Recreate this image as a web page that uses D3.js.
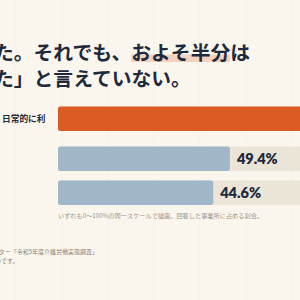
<!DOCTYPE html>
<html><head><meta charset="utf-8">
<script src="https://cdn.jsdelivr.net/npm/d3@7"></script>
<style>
html,body{margin:0;padding:0;background:#faf6ed;}
svg{display:block;}
</style></head>
<body>
<svg id="c" width="300" height="300"></svg>
<script>
// ---- data ----
const titleLine1Pre = "た。それでも、";
const titleLine1Hi = "およそ半分";
const titleLine1Post = "は";
const titleLine2 = "た」と言えていない。";
const categories = ["日常的に利用している", "一部で利用している", "利用していない"];
const values = [76.0, 49.4, 44.6];
const highlight = [true, false, false];
const note = "いずれも0〜100%の同一スケールで描画。回答した事業所に占める割合。";
const sourceLines = ["出典：介護労働安定センター「令和5年度介護労働実態調査」", "をもとに作成したものです。"];

const svg = d3.select("#c");
const W = 300, H = 300;
svg.append("rect").attr("width", W).attr("height", H).attr("fill", "#faf6ed");

// faint paper grid
const grid = svg.append("g").attr("stroke", "#f2ede2").attr("stroke-width", 0.6).attr("opacity", 0.5);
d3.range(0, W + 1, 46).forEach(x => grid.append("line").attr("x1", x + 16).attr("x2", x + 16).attr("y1", 0).attr("y2", H));

const JP = "'Noto Sans CJK JP','Noto Sans',sans-serif";
const NUM = "Lato,'Noto Sans',sans-serif";

// ---- title ----
const tFont = 19.8;
const t1 = svg.append("text").attr("x", -6).attr("y", 60)
  .attr("font-family", JP).attr("font-weight", 700).attr("font-size", tFont).attr("fill", "#1e2a3b");
t1.append("tspan").text(titleLine1Pre);
t1.append("tspan").text(titleLine1Hi);
t1.append("tspan").text(titleLine1Post);
// highlight behind
const preLen = t1.node().getSubStringLength(0, titleLine1Pre.length);
const hiLen = t1.node().getSubStringLength(titleLine1Pre.length, titleLine1Hi.length);
svg.insert("rect", "text").attr("x", -6 + preLen).attr("y", 54.5).attr("width", hiLen).attr("height", 7.5)
  .attr("fill", "#f2c9b6").attr("opacity", 0.85);

svg.append("text").attr("x", -6).attr("y", 85.5)
  .attr("font-family", JP).attr("font-weight", 700).attr("font-size", tFont).attr("fill", "#1e2a3b")
  .text(titleLine2);

// ---- scales ----
const x = d3.scaleLinear().domain([0, 100]).range([58, 58 + 348]);
const y = d3.scaleBand().domain(categories).range([106.5, 199]).paddingInner(0.28).paddingOuter(0);
const groupGap = 6;
const yPos = (c, i) => y(c) + (i > 0 ? groupGap : 0);

const rows = svg.append("g").selectAll("g").data(categories).join("g");

// track
rows.append("rect")
  .attr("x", x(0)).attr("y", (c, i) => yPos(c, i))
  .attr("width", x(100) - x(0)).attr("height", y.bandwidth())
  .attr("rx", 2.5).attr("fill", "#ebe5d8");
// bar
rows.append("rect")
  .attr("x", x(0)).attr("y", (c, i) => yPos(c, i))
  .attr("width", (c, i) => x(values[i]) - x(0)).attr("height", y.bandwidth())
  .attr("rx", 2.5).attr("fill", (c, i) => highlight[i] ? "#dc5a24" : "#a0b6c9");
// value labels
rows.append("text")
  .attr("x", (c, i) => x(values[i]) + 7)
  .attr("y", (c, i) => yPos(c, i) + y.bandwidth() / 2 + 5)
  .attr("font-family", NUM).attr("font-weight", 800).attr("font-size", 14.5).attr("fill", "#1e2a3b")
  .text((c, i) => values[i].toFixed(1) + "%");

// category label (only highlighted row visible), clipped to label column
svg.append("clipPath").attr("id", "lab").append("rect").attr("x", 0).attr("y", 0).attr("width", 45.3).attr("height", H);
svg.append("g").attr("clip-path", "url(#lab)")
  .selectAll("text").data(categories.filter((c, i) => highlight[i])).join("text")
  .attr("x", 2).attr("y", c => yPos(c, categories.indexOf(c)) + y.bandwidth() / 2 + 3.2)
  .attr("font-family", JP).attr("font-weight", 700).attr("font-size", 8.7).attr("fill", "#1e2a3b")
  .text(c => c);

// note
svg.append("text").attr("x", 58).attr("y", 217.5)
  .attr("font-family", JP).attr("font-size", 6.2).attr("fill", "#9a958c").text(note);

// source
svg.append("g").selectAll("text").data(sourceLines).join("text")
  .attr("x", (d, i) => i === 0 ? 98 : 18.5).attr("y", (d, i) => 254 + i * 9)
  .attr("text-anchor", "end")
  .attr("font-family", JP).attr("font-size", 6).attr("fill", "#8a857c").text(d => d);
</script>
</body></html>
